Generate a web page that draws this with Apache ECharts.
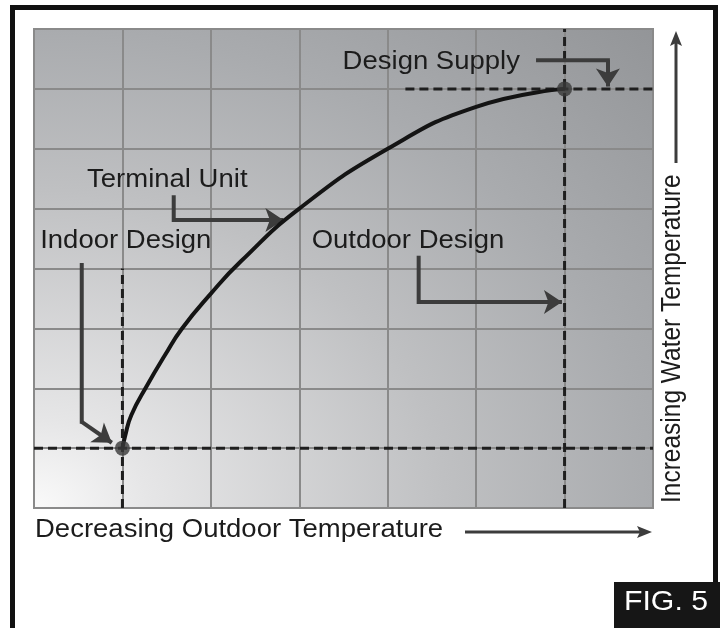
<!DOCTYPE html>
<html>
<head>
<meta charset="utf-8">
<title>Fig. 5</title>
<script src="https://cdn.jsdelivr.net/npm/echarts@6/dist/echarts.min.js"></script>
<style>
  html, body { margin: 0; background: #fff; }
  #chart { width: 720px; height: 628px; }
</style>
</head>
<body>
<div id="chart"></div>
<script>
  // grid cells on each axis (no units on the figure)
  const xRange = [0, 7];
  const yRange = [0, 8];

  // terminal unit reset curve
  const resetCurve = [[1, 1], [1.03, 1.2], [1.1, 1.55], [1.28, 2.05], [1.48, 2.55], [1.67, 2.99], [2, 3.58], [2.34, 4.12], [3, 5], [4, 6], [5, 6.7], [6, 7]];
  // indoor design point and design supply point
  const designPoints = [[1, 1], [6, 7]];
  // dashed guide lines
  const guideLines = [
    [[0, 1], [7, 1]],
    [[1, 0], [1, 4]],
    [[4.2, 7], [7, 7]],
    [[6, 0], [6, 8]]
  ];
  // callout texts and their elbow arrows (last point = arrow tip)
  const calloutNames = ['Design Supply', 'Terminal Unit', 'Indoor Design', 'Outdoor Design'];
  const calloutAt = [[3.49, 7.44], [0.6, 5.48], [0.07, 4.45], [3.14, 4.45]];
  const calloutArrows = [
    [[5.7, 7.48], [6.49, 7.48], [6.49, 7.04]],
    [[1.58, 5.19], [1.58, 4.81], [2.82, 4.81]],
    [[0.54, 4.06], [0.54, 1.44], [0.88, 1.09]],
    [[4.35, 4.18], [4.35, 3.44], [5.97, 3.44]]
  ];
  const xTitle = 'Decreasing Outdoor Temperature';
  const yTitle = 'Increasing Water Temperature';
  const figLabel = 'FIG. 5';

  const FONT = '"Liberation Sans", Arial, Helvetica, sans-serif';
  const ARROW = '#3c3c3c';

  const chart = echarts.init(document.getElementById('chart'));

  const series = [];
  guideLines.forEach(function (seg) {
    series.push({
      type: 'line', data: seg, symbol: 'none', silent: true, z: 3,
      lineStyle: { color: '#1e1e1e', width: 3, type: [9, 5] }
    });
  });
  calloutArrows.forEach(function (path) {
    series.push({
      type: 'line', data: path.slice(0, -1), symbol: 'none', silent: true, z: 4,
      lineStyle: { color: ARROW, width: 4, join: 'miter', cap: 'square' }
    });
  });
  series.push({
    type: 'lines',
    coordinateSystem: 'cartesian2d',
    data: calloutArrows.map(function (p) { return { coords: p.slice(-2) }; }),
    symbol: ['none', 'arrow'],
    symbolSize: 18,
    silent: true,
    z: 4,
    lineStyle: { color: ARROW, width: 4, opacity: 1, curveness: 0 }
  });
  series.push({
    type: 'line', data: resetCurve, smooth: 0.5,
    symbol: 'none', silent: true, z: 5,
    lineStyle: { color: '#141414', width: 4 }
  });
  series.push({
    type: 'scatter', data: designPoints, symbolSize: 15, silent: true, z: 6,
    itemStyle: { color: '#383838' }
  });

  const axisBase = {
    type: 'value',
    interval: 1,
    axisLine: { show: false },
    axisTick: { show: false },
    axisLabel: { show: false },
    splitLine: { show: true, lineStyle: { color: '#8a8a8a', width: 2 } }
  };

  chart.setOption({
    animation: false,
    backgroundColor: '#fff',
    grid: {
      left: 34, top: 29, width: 619, height: 479,
      show: true, borderColor: '#8a8a8a', borderWidth: 2,
      backgroundColor: 'transparent'
    },
    xAxis: Object.assign({ min: xRange[0], max: xRange[1] }, axisBase),
    yAxis: Object.assign({ min: yRange[0], max: yRange[1] }, axisBase),
    series: series
  });

  // plot area corners, for the shaded background
  const bl = chart.convertToPixel({ gridIndex: 0 }, [xRange[0], yRange[0]]);
  const tr = chart.convertToPixel({ gridIndex: 0 }, [xRange[1], yRange[1]]);
  const gw = tr[0] - bl[0];
  const gh = bl[1] - tr[1];

  function txt(text, x, y, size, color, extra) {
    return Object.assign({
      type: 'text', x: x, y: y, silent: true, scaleX: 1.1,
      style: {
        text: text, fill: color, fontSize: size, fontFamily: FONT,
        align: 'left', verticalAlign: 'middle'
      }
    }, extra || {});
  }

  const graphics = [
    {
      type: 'rect', x: bl[0], y: tr[1], scaleX: gw / gh, z: -1, silent: true,
      shape: { x: 0, y: 0, width: gh, height: gh },
      style: {
        fill: new echarts.graphic.RadialGradient(0, 1, 1.414, [
          { offset: 0, color: '#fafafa' },
          { offset: 0.13, color: '#e6e6e7' },
          { offset: 0.47, color: '#bfc0c2' },
          { offset: 0.707, color: '#a9abae' },
          { offset: 1, color: '#939598' }
        ])
      }
    },
    // outer frame
    {
      type: 'rect', silent: true,
      shape: { x: 12.5, y: 7.5, width: 703, height: 680 },
      style: { fill: 'none', stroke: '#111', lineWidth: 5 }
    },
    // figure tag
    {
      type: 'rect', silent: true,
      shape: { x: 614, y: 582, width: 110, height: 50 },
      style: { fill: '#161616' }
    },
    txt(figLabel, 624, 602, 28, '#ffffff', { scaleX: 1.08 }),
    // x title and arrow
    txt(xTitle, 35, 530, 25, '#1c1c1c'),
    {
      type: 'line', silent: true,
      shape: { x1: 465, y1: 532, x2: 642, y2: 532 },
      style: { stroke: ARROW, lineWidth: 3 }
    },
    {
      type: 'polygon', silent: true,
      shape: { points: [[652, 532], [637, 526], [640, 532], [637, 538]] },
      style: { fill: ARROW }
    },
    // y title and arrow
    txt(yTitle, 673, 503, 24.5, '#1c1c1c', { rotation: Math.PI / 2, scaleX: 1, scaleY: 1.1 }),
    {
      type: 'line', silent: true,
      shape: { x1: 676, y1: 163, x2: 676, y2: 42 },
      style: { stroke: ARROW, lineWidth: 3 }
    },
    {
      type: 'polygon', silent: true,
      shape: { points: [[676, 31], [670, 46], [676, 43], [682, 46]] },
      style: { fill: ARROW }
    }
  ];

  calloutNames.forEach(function (name, i) {
    const p = chart.convertToPixel({ gridIndex: 0 }, calloutAt[i]);
    graphics.push(txt(name, p[0], p[1], 25, '#1c1c1c'));
  });

  chart.setOption({ graphic: graphics });
</script>
</body>
</html>
